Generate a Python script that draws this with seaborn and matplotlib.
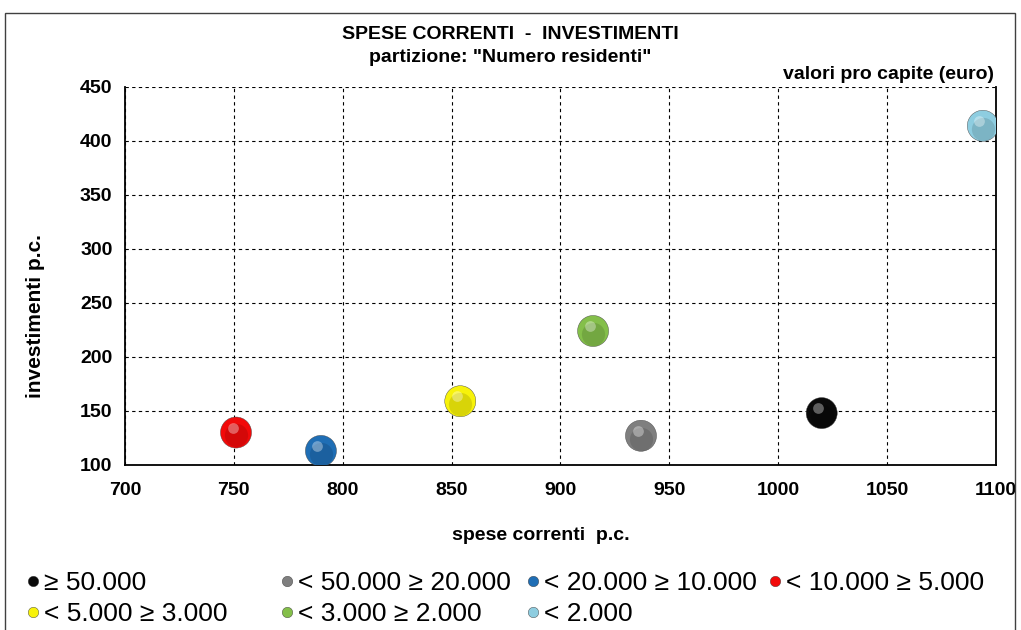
import numpy as np
import pandas as pd
import matplotlib
matplotlib.use("Agg")
import matplotlib.pyplot as plt
import matplotlib.transforms as mtransforms
from matplotlib.lines import Line2D
from matplotlib.patches import Rectangle
import seaborn as sns

# classes of municipalities by number of residents
classi = ["≥ 50.000", "< 50.000 ≥ 20.000", "< 20.000 ≥ 10.000", "< 10.000 ≥ 5.000",
          "< 5.000 ≥ 3.000", "< 3.000 ≥ 2.000", "< 2.000"]
spese_correnti = [1020, 937, 790, 751, 854, 915, 1094]
investimenti = [148, 127, 113, 130, 159, 224, 414]
colori = ["#0a0a0a", "#7f7f7f", "#1f6eb5", "#f20a0a", "#f7f20a", "#84bf4a", "#8ecde0"]

df = pd.DataFrame({"spese": spese_correnti, "investimenti": investimenti, "classe": classi})

sns.set_style("white")
plt.rcParams["font.family"] = ["Liberation Sans", "DejaVu Sans"]
plt.rcParams["text.color"] = "black"
plt.rcParams["axes.labelcolor"] = "black"
plt.rcParams["xtick.color"] = "black"
plt.rcParams["ytick.color"] = "black"

fig = plt.figure(figsize=(10.21, 6.30), dpi=100)
ax = fig.add_axes([0.1224, 0.262, 0.853, 0.600])

sns.scatterplot(data=df, x="spese", y="investimenti", hue="classe", palette=colori,
                s=500, edgecolor="#444444", linewidth=0.3, legend=False, ax=ax, zorder=3)

# darker lower part and light spot to give the markers a sphere look
down = mtransforms.ScaledTranslation(0, -2 / 72, fig.dpi_scale_trans)
ax.scatter(df["spese"], df["investimenti"], s=280, color="black", alpha=0.12,
           linewidth=0, zorder=4, transform=ax.transData + down)
shift = mtransforms.ScaledTranslation(-2.5 / 72, 3.5 / 72, fig.dpi_scale_trans)
ax.scatter(df["spese"], df["investimenti"], s=60, color="white", alpha=0.35,
           linewidth=0, zorder=5, transform=ax.transData + shift)

ax.set_xlim(700, 1100)
ax.set_ylim(100, 450)
ax.set_xticks(np.arange(700, 1101, 50))
ax.set_yticks(np.arange(100, 451, 50))
ax.grid(True, color="black", linestyle=(0, (3, 3)), linewidth=0.8)
ax.set_axisbelow(True)
for s in ["left", "bottom", "right"]:
    ax.spines[s].set_color("black")
    ax.spines[s].set_linewidth(1.3)
ax.spines["top"].set_visible(False)
ax.tick_params(axis="both", direction="out", length=5, width=1, color="black",
               labelsize=14, pad=4)
for lab in ax.get_xticklabels() + ax.get_yticklabels():
    lab.set_fontweight("bold")
ax.tick_params(axis="x", pad=7)

ax.set_xlabel("spese correnti  p.c.", fontsize=14, fontweight="bold", va="center")
ax.xaxis.set_label_coords(0.478, -0.186)
ax.set_ylabel("investimenti p.c.", fontsize=15, fontweight="bold", va="center")
ax.yaxis.set_label_coords(-0.103, 0.395)

fig.text(0.5, 0.945, "SPESE CORRENTI  -  INVESTIMENTI", ha="center", va="center",
         fontsize=14, fontweight="bold")
fig.text(0.5, 0.908, "partizione: \"Numero residenti\"", ha="center", va="center",
         fontsize=14, fontweight="bold")
fig.text(0.974, 0.881, "valori pro capite (euro)", ha="right", va="center",
         fontsize=14, fontweight="bold")

# outer chart frame
fig.patches.append(Rectangle((0.005, -0.05), 0.989, 1.03, transform=fig.transFigure,
                             fill=False, edgecolor="#404040", linewidth=1.0))

handles = [Line2D([], [], marker="o", linestyle="", markersize=7.5, markerfacecolor=c,
                  markeredgecolor="#333333", markeredgewidth=0.3) for c in colori]
colonne = [[0, 4], [1, 5], [2, 6], [3]]
col_x = [0.026, 0.2747, 0.5157, 0.7527]
for idx, x0 in zip(colonne, col_x):
    leg = fig.legend([handles[i] for i in idx], [classi[i] for i in idx],
                     loc="upper left", bbox_to_anchor=(x0, 0.0937), frameon=False,
                     fontsize=19, handlelength=0.5, handletextpad=0.15,
                     labelspacing=0.27, borderpad=0, borderaxespad=0)

fig.savefig("out.png", dpi=100)
